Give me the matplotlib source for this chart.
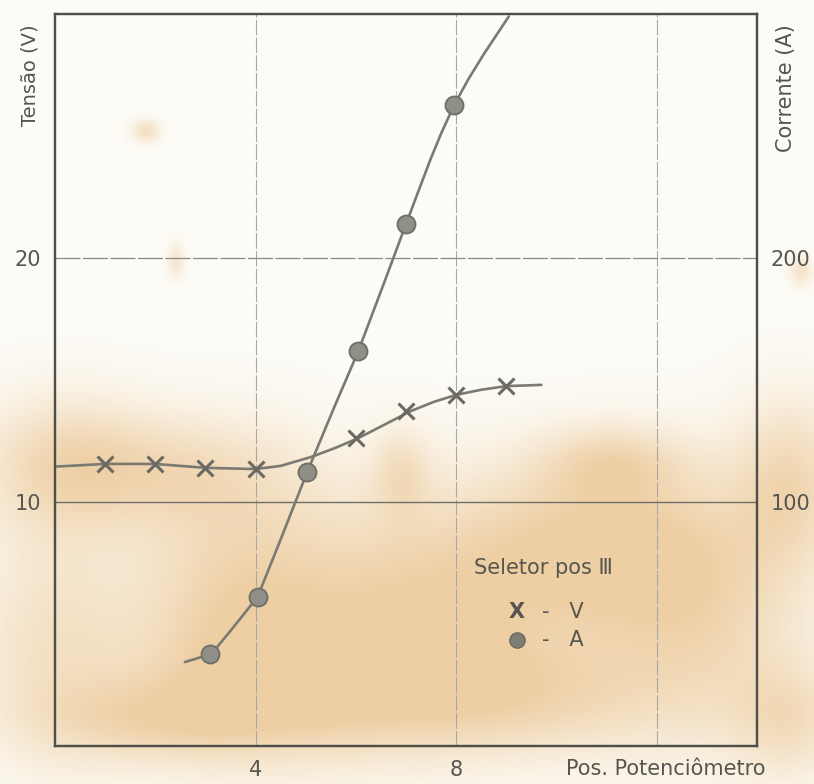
import numpy as np
import matplotlib
matplotlib.use("Agg")
from matplotlib import pyplot as plt

W, H = 814, 784

# measured points
pos_v = [1, 2, 3, 4, 6, 7, 8, 9]
tensao = [11.56, 11.56, 11.4, 11.35, 12.62, 13.73, 14.39, 14.75]

pos_a = [3.1, 4.04, 5.03, 6.05, 7.0, 7.96]
corrente = [37.7, 61.1, 112.3, 161.9, 213.9, 262.7]

# hand-drawn fitted curves (traced)
curve_v_x = [0, 1, 2, 3, 4, 4.5, 5.1, 5.57, 6.05, 6.6, 7.1, 7.55, 8.0, 8.5, 9.0, 9.7]
curve_v_y = [11.45, 11.56, 11.56, 11.4, 11.35, 11.48, 11.84, 12.2, 12.62, 13.2, 13.73,
             14.1, 14.39, 14.6, 14.75, 14.8]

curve_a_x = [2.59, 3.12, 3.48, 4.04, 4.48, 5.03, 5.57, 6.05, 6.57, 7.0, 7.48, 7.7, 7.96,
             8.25, 8.55, 9.05]
curve_a_y = [34.4, 37.7, 46.7, 61.1, 83.6, 112.3, 138.9, 161.9, 190.2, 213.9, 240.0, 251.0,
             262.7, 273.5, 283.5, 299.0]

x_ticks = [4, 8]
v_ticks = [10, 20]
a_ticks = [100, 200]

INK = "#56564f"
LINE = "#7a7a72"

# old paper with water stains: (cx, cy, sx, sy, strength) in pixels
stains = [
    (420, 600, 110, 80, 0.55), (600, 540, 90, 60, 0.5), (330, 690, 120, 50, 0.5),
    (230, 600, 70, 90, 0.45), (700, 620, 80, 90, 0.45), (160, 470, 90, 40, 0.35),
    (60, 460, 60, 50, 0.35), (50, 640, 60, 90, 0.35), (790, 480, 40, 60, 0.45),
    (610, 460, 50, 25, 0.35), (540, 700, 90, 40, 0.3), (150, 720, 80, 30, 0.35),
    (790, 720, 40, 40, 0.35), (145, 130, 10, 8, 0.4), (175, 260, 6, 12, 0.3),
    (800, 270, 8, 10, 0.35), (400, 470, 20, 30, 0.3),
]


def px(x, y):
    return x / W, 1 - y / H


fig = plt.figure(figsize=(W / 100, H / 100), dpi=100)

bg = fig.add_axes([0, 0, 1, 1], zorder=-10)
gy, gx = np.mgrid[0:H:2, 0:W:2]
alpha = np.zeros(gx.shape)
for cx, cy, sx, sy, s in stains:
    alpha += s * np.exp(-(((gx - cx) / sx) ** 2 + ((gy - cy) / sy) ** 2) / 2)
alpha = np.clip(alpha, 0, 0.65)[..., None]
paper = np.array([253, 252, 247]) / 255
stain = np.array([230, 182, 118]) / 255
bg.imshow(paper * (1 - alpha) + stain * alpha, extent=[0, W, H, 0], aspect="auto")
bg.axis("off")

ax = fig.add_axes([55 / W, (H - 746) / H, (757 - 55) / W, (746 - 14) / H])
ax.set_facecolor("none")
ax.set_xlim(0, 14)
ax.set_ylim(0, 30)

ax2 = ax.twinx()
ax2.set_ylim(0, 300)

for a in (ax, ax2):
    for sp in a.spines.values():
        sp.set_color("#4f4f4a")
        sp.set_linewidth(1.6)

ax.set_xticks(x_ticks)
ax.set_yticks(v_ticks)
ax2.set_yticks(a_ticks)
ax.tick_params(axis="x", length=0, pad=10, labelsize=15, labelcolor=INK)
ax.tick_params(axis="y", length=0, pad=10, labelsize=15, labelcolor=INK)
ax2.tick_params(axis="y", length=0, pad=10, labelsize=15, labelcolor=INK)

for xv in [4, 8, 12]:
    ax.axvline(xv, color="#a9a9a3", lw=0.8, ls=(0, (14, 2)), zorder=1)
ax.axhline(20, color="#8a8a84", lw=0.9, ls=(0, (20, 2)), zorder=1)
ax.axhline(10, color="#6e6e68", lw=1.0, zorder=1)

ax.plot(curve_v_x, curve_v_y, color=LINE, lw=1.9, solid_capstyle="round", zorder=3)
ax.plot(pos_v, tensao, "x", ms=12, mew=2.2, color="#6a6a63", zorder=4)

ax2.plot(curve_a_x, curve_a_y, color=LINE, lw=1.9, solid_capstyle="round", zorder=3, clip_on=False)
ax2.plot(pos_a, corrente, "o", ms=13, mfc="#8f8f88", mec="#6f6f68", mew=1.3, zorder=4)

fig.text(*px(30, 75), "Tensão (V)", rotation=90, ha="center", va="center",
         fontsize=14, color=INK)
fig.text(*px(786, 88), "Corrente (A)", rotation=90, ha="center", va="center",
         fontsize=15, color=INK)
fig.text(*px(566, 769), "Pos. Potenciômetro", ha="left", va="center",
         fontsize=15, color=INK)

fig.text(*px(474, 568), "Seletor pos Ⅲ", ha="left", va="center", fontsize=15, color=INK)
fig.text(*px(517, 612), "X", ha="center", va="center", fontsize=15, color=INK, weight="bold")
fig.text(*px(542, 612), "-   V", ha="left", va="center", fontsize=15, color=INK)
ax.plot(*px(517, 640), "o", ms=11, mfc="#7d7d76", mec="#6a6a63",
        transform=fig.transFigure, clip_on=False)
fig.text(*px(542, 640), "-   A", ha="left", va="center", fontsize=15, color=INK)

fig.savefig("out.png", dpi=100)
